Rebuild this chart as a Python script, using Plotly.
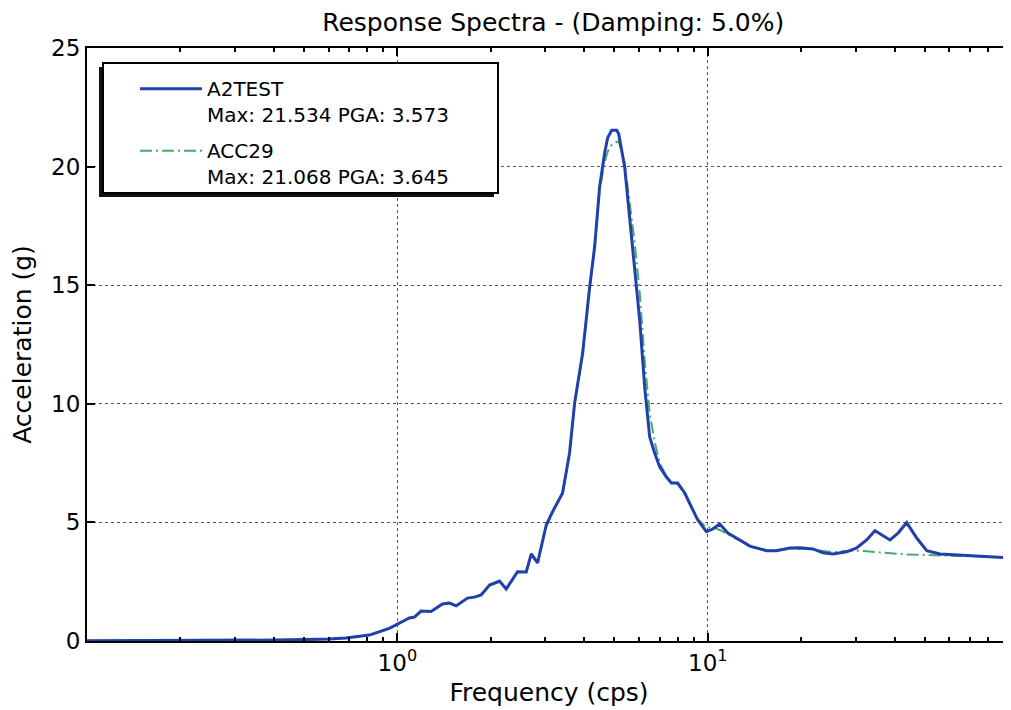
import plotly.graph_objects as go

# Frequencies (cps) shared by both spectra
freq = [0.10, 0.15, 0.20, 0.30, 0.40, 0.50, 0.604, 0.683, 0.812, 0.942, 0.99,
        1.093, 1.135, 1.192, 1.284, 1.397, 1.472, 1.546, 1.682, 1.772, 1.862,
        1.981, 2.133, 2.242, 2.439, 2.601, 2.700, 2.829, 3.018, 3.162, 3.406,
        3.587, 3.724, 3.953, 4.164, 4.320, 4.483, 4.653, 4.758, 4.901, 5.087,
        5.164, 5.399, 5.603, 5.815, 6.035, 6.263, 6.500, 6.745, 7.000, 7.357,
        7.636, 8.003, 8.430, 8.859, 9.285, 9.903, 10.38, 10.93, 11.60, 12.69,
        13.66, 15.47, 16.66, 18.39, 19.81, 21.82, 23.50, 25.30, 28.03, 30.18,
        32.50, 34.57, 36.34, 38.65, 41.02, 43.75, 47.12, 50.77, 56.03, 65.02,
        75.41, 87.48, 94.23]

# A2TEST spectral acceleration (g)
acc_a2test = [0.01, 0.01, 0.015, 0.03, 0.04, 0.06, 0.08, 0.13, 0.25, 0.53, 0.68,
              0.97, 1.01, 1.26, 1.24, 1.56, 1.60, 1.48, 1.81, 1.85, 1.94,
              2.36, 2.53, 2.19, 2.92, 2.91, 3.67, 3.29, 4.89, 5.45, 6.24,
              7.93, 10.03, 12.14, 14.92, 16.61, 19.14, 20.57, 21.21, 21.53, 21.53,
              21.38, 19.98, 17.75, 15.64, 13.53, 10.71, 8.60, 7.93, 7.34, 6.91,
              6.66, 6.66, 6.24, 5.65, 5.10, 4.61, 4.72, 4.93, 4.55, 4.26,
              4.00, 3.81, 3.81, 3.92, 3.93, 3.88, 3.72, 3.67, 3.76, 3.92,
              4.26, 4.65, 4.47, 4.26, 4.55, 4.99, 4.34, 3.81, 3.67, 3.63,
              3.58, 3.54, 3.50]

# ACC29 spectral acceleration (g)
acc_acc29 = [0.01, 0.01, 0.015, 0.03, 0.04, 0.06, 0.08, 0.13, 0.25, 0.53, 0.68,
             0.97, 1.01, 1.24, 1.25, 1.55, 1.59, 1.50, 1.80, 1.85, 1.95,
             2.34, 2.50, 2.22, 2.90, 2.92, 3.62, 3.32, 4.85, 5.42, 6.24,
             7.90, 10.00, 12.10, 14.90, 16.60, 19.00, 20.20, 20.63, 20.91, 21.04,
             21.07, 20.15, 18.50, 16.80, 14.70, 11.80, 9.60, 8.40, 7.50, 6.95,
             6.70, 6.62, 6.20, 5.65, 5.15, 4.78, 4.80, 4.68, 4.50, 4.22,
             4.00, 3.82, 3.85, 3.90, 3.90, 3.85, 3.78, 3.74, 3.80, 3.81,
             3.78, 3.75, 3.72, 3.68, 3.66, 3.65, 3.64, 3.63, 3.62, 3.60,
             3.58, 3.55, 3.52]

names = ["A2TEST<br>Max: 21.534 PGA: 3.573", "ACC29<br>Max: 21.068 PGA: 3.645"]
y_ticks = [0, 5, 10, 15, 20, 25]
x_major = [1, 10]
x_major_text = ["10<sup>0</sup>", "10<sup>1</sup>"]
x_minor = [0.2, 0.3, 0.4, 0.5, 0.6, 0.7, 0.8, 0.9,
           2, 3, 4, 5, 6, 7, 8, 9, 20, 30, 40, 50, 60, 70, 80, 90]

FONT = "DejaVu Sans"

fig = go.Figure()
fig.add_trace(go.Scatter(x=freq, y=acc_acc29, mode="lines", name=names[1],
                         legendgroup="b", legendrank=2,
                         line=dict(color="#45ad6a", width=2, dash="12px,4px,2px,4px")))
fig.add_trace(go.Scatter(x=freq, y=acc_a2test, mode="lines", name=names[0],
                         legendgroup="a", legendrank=1,
                         line=dict(color="#2040aa", width=3)))

# legend frame + shadow (matplotlib-style fancy legend)
fig.add_shape(type="rect", xref="paper", yref="paper", x0=0.013, x1=0.4405,
              y0=0.7487, y1=0.968, fillcolor="#111", line=dict(width=0), layer="above")
fig.add_shape(type="rect", xref="paper", yref="paper", x0=0.0173, x1=0.4448,
              y0=0.7555, y1=0.9747, fillcolor="white",
              line=dict(color="black", width=2), layer="above")

fig.update_layout(
    width=1003, height=702,
    margin=dict(l=79, r=0, t=40, b=69),
    paper_bgcolor="white", plot_bgcolor="white",
    font=dict(family=FONT, color="black"),
    title=dict(text="Response Spectra - (Damping: 5.0%)", x=0.5436, xanchor="center",
               y=0.98, yanchor="middle", font=dict(size=25, family=FONT)),
    legend=dict(x=0.0173, y=0.9643, xanchor="left", yanchor="top",
                bgcolor="rgba(0,0,0,0)", borderwidth=0,
                font=dict(size=20, family=FONT), valign="top",
                traceorder="grouped", indentation=32, itemwidth=62,
                tracegroupgap=7),
    showlegend=True,
)

fig.update_xaxes(type="log", range=[-1, 1.977],
                 tickmode="array", tickvals=x_major, ticktext=x_major_text,
                 ticks="inside", ticklen=8, tickwidth=1.5, tickcolor="black",
                 minor=dict(tickmode="array", tickvals=x_minor, ticks="inside",
                            ticklen=4, tickcolor="black", showgrid=False),
                 showline=True, linecolor="black", linewidth=2, mirror="allticks",
                 showgrid=True, gridcolor="#555", griddash="dot", gridwidth=1,
                 tickfont=dict(size=23, family=FONT),
                 title=dict(text="Frequency (cps)", font=dict(size=25, family=FONT), standoff=9),
                 zeroline=False)
fig.update_yaxes(range=[0, 25], tickmode="array", tickvals=y_ticks,
                 ticks="inside", ticklen=8, tickwidth=1.5, tickcolor="black",
                 showline=True, linecolor="black", linewidth=2, mirror=False,
                 showgrid=True, gridcolor="#555", griddash="dot", gridwidth=1,
                 tickfont=dict(size=23, family=FONT),
                 title=dict(text="Acceleration (g)", font=dict(size=25, family=FONT), standoff=12),
                 zeroline=False)

fig.write_html("out.html")
